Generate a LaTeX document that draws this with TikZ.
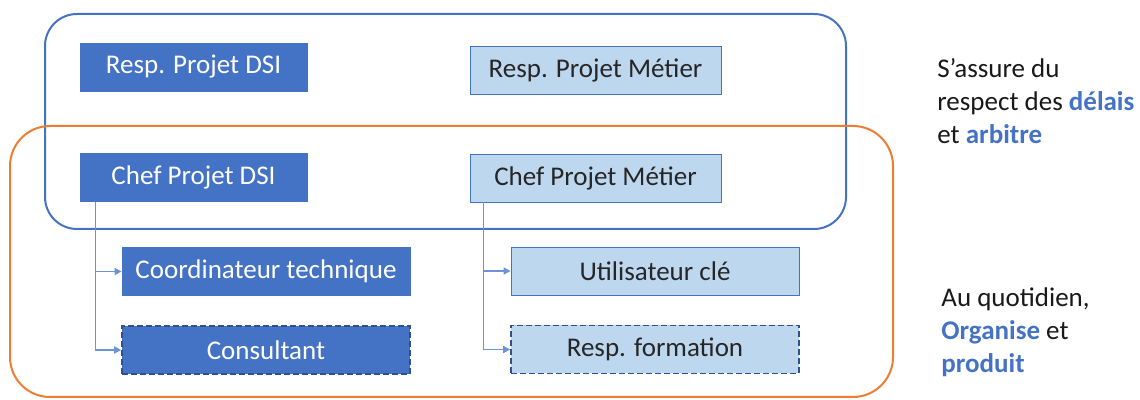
\documentclass[tikz,border=0pt]{standalone}
\usepackage{fontspec}
\setmainfont{Carlito}
\usetikzlibrary{arrows.meta}
\definecolor{OfficeBlue}{HTML}{4472C4}
\definecolor{PaleBlue}{HTML}{BDD7EE}
\definecolor{DarkEdge}{HTML}{2F528F}
\definecolor{OfficeOrange}{HTML}{ED7D31}
\definecolor{LinkBlue}{HTML}{6E92D6}
\newcommand{\hl}[1]{\textcolor{OfficeBlue}{\bfseries #1}}

\begin{document}
\begin{tikzpicture}[x=0.5pt, y=-0.5pt,
  every node/.style={font=\fontsize{13.5}{16.5}\selectfont},
  dsibox/.style={draw=OfficeBlue, fill=OfficeBlue, text=white,
    minimum height=24pt, inner sep=0pt},
  metierbox/.style={draw=OfficeBlue, fill=PaleBlue, text=black!85,
    minimum height=24pt, inner sep=0pt},
  extern/.style={dash pattern=on 3pt off 1.5pt, draw=DarkEdge, line width=0.8pt},
  link/.style={LinkBlue, line width=0.8pt, -{Triangle[length=3.5pt,width=3.5pt]}},
  remark/.style={align=left, anchor=west, inner sep=0pt, text=black!90}]
  \useasboundingbox (0,0) rectangle (1140,400);

  % groupes
  \draw [OfficeBlue, line width=1pt, rounded corners=16pt] (45,14) rectangle (846,229);
  \draw [OfficeOrange, line width=1pt, rounded corners=20pt] (10,126) rectangle (893,397);

  \node [dsibox, minimum width=113.5pt] (dsiresp) at (193.5,67) {Resp. Projet DSI};
  \node [dsibox, minimum width=113.5pt] (dsichef) at (193.5,177.5) {Chef Projet DSI};
  \node [metierbox, minimum width=125.5pt] (metresp) at (595.5,70) {Resp. Projet Métier};
  \node [metierbox, minimum width=125.5pt] (metchef) at (595.5,178) {Chef Projet Métier};

  \node [dsibox, minimum width=144pt] (coord) at (266,271.5) {Coordinateur technique};
  \node [dsibox, extern, minimum width=144pt] (consult) at (266,350) {Consultant};
  \node [metierbox, minimum width=144pt] (user) at (655,271) {Utilisateur clé};
  \node [metierbox, extern, minimum width=144pt] (form) at (655,349.5) {Resp. formation};

  \draw [link] ([xshift=8pt]dsichef.south west) |- (coord.west);
  \draw [link] ([xshift=8pt]dsichef.south west) |- (consult.west);
  \draw [link] ([xshift=7pt]metchef.south west) |- (user.west);
  \draw [link] ([xshift=7pt]metchef.south west) |- (form.west);

  \node [remark] (pilotage) at (937,101) {S’assure du\\respect des \hl{délais}\\et \hl{arbitre}};
  \node [remark] (production) at (941,332) {Au quotidien,\\\hl{Organise} et\\\hl{produit}};
\end{tikzpicture}
\end{document}
